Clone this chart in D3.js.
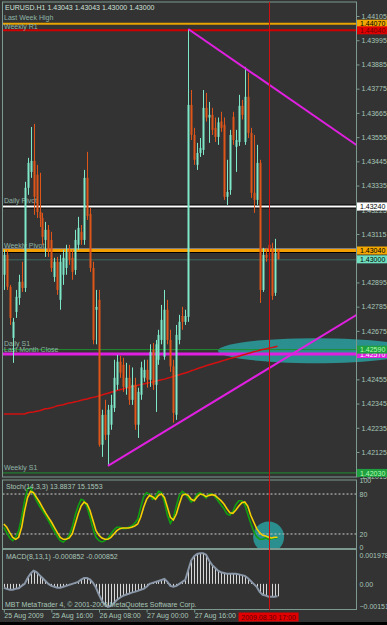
<!DOCTYPE html>
<html><head><meta charset="utf-8">
<script src="https://cdn.jsdelivr.net/npm/d3@7"></script>
<style>body{margin:0;background:#000}svg{display:block}text{font-family:"Liberation Sans",Arial,sans-serif}</style>
</head><body>
<script>
const title = "EURUSD.H1 1.43043 1.43043 1.43000 1.43000";
const opens  = [1.42930,1.43020,1.42875,1.42643,1.42761,1.42825,1.42898,1.42870,1.43325,1.43397,1.43447,1.43384,1.43215,1.43188,1.43088,1.43134,1.43088,1.42920,1.42989,1.42816,1.42930,1.42961,1.43043,1.43007,1.42952,1.43066,1.43125,1.43088,1.43370,1.43206,1.42961,1.42771,1.42816,1.42158,1.42294,1.42203,1.42249,1.42325,1.42430,1.42535,1.42521,1.42417,1.42462,1.42362,1.42430,1.42249,1.42385,1.42462,1.42498,1.42453,1.42589,1.42430,1.42544,1.42634,1.42557,1.42771,1.42634,1.42514,1.42294,1.42634,1.42743,1.42716,1.42739,1.43701,1.43565,1.43429,1.43483,1.43497,1.43688,1.43644,1.43656,1.43597,1.43556,1.43626,1.43611,1.43284,1.43315,1.43647,1.43511,1.43533,1.43697,1.43533,1.43738,1.43574,1.43302,1.43270,1.43438,1.42861,1.43020,1.43066,1.43043,1.42848,1.43043];
const highs  = [1.43043,1.43043,1.42884,1.42734,1.42861,1.42930,1.42989,1.43352,1.43461,1.43601,1.43615,1.43429,1.43393,1.43211,1.43170,1.43156,1.43125,1.43007,1.43011,1.43020,1.43043,1.43066,1.43066,1.43043,1.43134,1.43193,1.43156,1.43406,1.43488,1.43234,1.42989,1.42861,1.42861,1.42317,1.42362,1.42339,1.42385,1.42544,1.42566,1.42562,1.42553,1.42530,1.42521,1.42509,1.42462,1.42417,1.42535,1.42544,1.42544,1.42614,1.42620,1.42634,1.42680,1.42793,1.42861,1.42816,1.42680,1.42544,1.42702,1.42748,1.42784,1.42771,1.44046,1.43769,1.43597,1.43529,1.43551,1.43769,1.43756,1.43715,1.43688,1.43644,1.43644,1.43670,1.43644,1.43452,1.43588,1.43670,1.43588,1.43747,1.43724,1.43874,1.43847,1.43597,1.43565,1.43520,1.43452,1.43052,1.43052,1.43075,1.43075,1.43093,1.43043];
const lows   = [1.42861,1.42861,1.42702,1.42530,1.42734,1.42793,1.42852,1.42852,1.43293,1.43370,1.43202,1.43188,1.43147,1.43066,1.43011,1.43011,1.42943,1.42898,1.42839,1.42771,1.42884,1.42930,1.42975,1.42907,1.42930,1.43043,1.43066,1.43066,1.43179,1.42943,1.42614,1.42614,1.42149,1.42103,1.42180,1.42062,1.42226,1.42307,1.42407,1.42462,1.42398,1.42385,1.42339,1.42339,1.42226,1.42189,1.42362,1.42444,1.42417,1.42421,1.42407,1.42307,1.42521,1.42614,1.42544,1.42614,1.42489,1.42258,1.42271,1.42614,1.42680,1.42702,1.42716,1.43542,1.43429,1.43406,1.43465,1.43474,1.43626,1.43529,1.43565,1.43533,1.43520,1.43579,1.43270,1.43247,1.43293,1.43520,1.43397,1.43515,1.43635,1.43520,1.43551,1.43279,1.43211,1.43247,1.42802,1.42852,1.42989,1.43034,1.42816,1.42834,1.43000];
const closes = [1.43020,1.42875,1.42734,1.42716,1.42830,1.42898,1.42870,1.43325,1.43438,1.43447,1.43284,1.43215,1.43188,1.43102,1.43134,1.43043,1.42961,1.42989,1.42861,1.42989,1.43007,1.43034,1.42998,1.42943,1.43088,1.43143,1.43088,1.43370,1.43197,1.42961,1.42634,1.42784,1.42158,1.42294,1.42203,1.42317,1.42339,1.42462,1.42535,1.42485,1.42421,1.42462,1.42362,1.42430,1.42249,1.42398,1.42509,1.42498,1.42453,1.42580,1.42430,1.42614,1.42657,1.42725,1.42771,1.42634,1.42514,1.42303,1.42657,1.42716,1.42716,1.42743,1.43701,1.43565,1.43452,1.43483,1.43506,1.43688,1.43644,1.43656,1.43588,1.43556,1.43622,1.43597,1.43284,1.43306,1.43565,1.43542,1.43542,1.43697,1.43656,1.43738,1.43574,1.43302,1.43270,1.43438,1.42861,1.43020,1.43007,1.43043,1.42834,1.43029,1.43000];
const ma = [1.42298,1.42298,1.42298,1.42298,1.42298,1.42298,1.42298,1.42298,1.42303,1.42305,1.42307,1.42310,1.42312,1.42317,1.42321,1.42323,1.42326,1.42330,1.42335,1.42337,1.42340,1.42344,1.42348,1.42350,1.42353,1.42356,1.42360,1.42363,1.42366,1.42370,1.42373,1.42376,1.42380,1.42384,1.42388,1.42392,1.42396,1.42400,1.42404,1.42408,1.42411,1.42415,1.42418,1.42421,1.42424,1.42428,1.42431,1.42434,1.42437,1.42440,1.42443,1.42447,1.42450,1.42453,1.42456,1.42460,1.42464,1.42468,1.42472,1.42476,1.42480,1.42484,1.42488,1.42494,1.42498,1.42503,1.42508,1.42512,1.42517,1.42521,1.42525,1.42529,1.42533,1.42537,1.42541,1.42545,1.42549,1.42553,1.42556,1.42560,1.42564,1.42568,1.42572,1.42576,1.42580,1.42583,1.42587,1.42590,1.42593,1.42596,1.42599,1.42602,1.42605];
const stochD = [35,30,22,15,12,15,30,55,75,84,82,75,68,60,52,45,38,30,22,15,12,12,14,20,35,50,62,68,65,55,40,25,18,14,12,12,15,20,25,28,29,29,29,30,32,35,45,60,72,78,76,72,78,80,75,60,45,41,50,65,78,80,78,72,70,76,80,79,76,78,79,78,74,70,65,58,52,51,56,62,67,68,62,48,38,28,22,18,17,15,14,15,15.1553];
const stochK = [30,22,14,10,15,25,45,70,88,90,80,70,62,55,48,40,32,24,16,10,8,12,18,30,48,62,72,70,60,45,28,15,10,8,10,14,20,26,30,30,28,28,30,32,36,42,60,76,82,80,72,76,84,82,68,48,36,44,62,78,84,80,74,68,72,80,82,78,74,80,80,76,70,64,58,50,48,54,64,70,70,64,50,36,24,16,12,12,14,12,13,14,13.8837];
const macd = [-0.00027,-0.00034,-0.0004,-0.0004,-0.00034,-0.0003,-0.00014,0,0.0004,0.0007,0.0009,0.0008,0.0006,0.0004,0.0002,0,-0.00014,-0.0002,-0.00027,-0.00027,-0.0002,-0.00014,-0.00007,0,0.00007,0.00014,0.0003,0.0004,0.0004,0.0003,0.00007,-0.00027,-0.00075,-0.00116,-0.00143,-0.00157,-0.0015,-0.0013,-0.0011,-0.00095,-0.00082,-0.00075,-0.00068,-0.0006,-0.00055,-0.00048,-0.0004,-0.00034,-0.0002,0,0.00007,0.00014,0.0002,0.00027,0.00034,0.00014,-0.00014,-0.0002,-0.00014,0,0.00014,0.00027,0.00095,0.0016,0.0019,0.00205,0.0021,0.0021,0.0020,0.0016,0.0013,0.0011,0.0009,0.0008,0.00075,0.0007,0.0007,0.0007,0.0007,0.00065,0.0006,0.00055,0.0004,0.0002,0,-0.0002,-0.00055,-0.00075,-0.0008,-0.00088,-0.00088,-0.00088,-0.000852];
const priceTicks = [1.44105,1.43995,1.43885,1.43775,1.43665,1.43555,1.43445,1.43335,1.43225,1.43115,1.42895,1.42785,1.42675,1.42455,1.42345,1.42235,1.42125,1.42015];
const timeTickBars = [0,16,32,48,64];
const timeTickLabels = ["25 Aug 2009","25 Aug 16:00","26 Aug 08:00","27 Aug 00:00","27 Aug 16:00"];
const levelNames  = ["Last Week High","Weekly R1","Daily Pivot","Weekly Pivot","Daily S1","Last Month Close","Weekly S1"];
const levelPrices = [1.44070,1.44040,1.43240,1.43040,1.42590,1.42570,1.42030];
const levelColors = ["#e8a400","#d00000","#ffffff","#f4a000","#1f8f2f","#e020e0","#1f8f2f"];
const levelWidths = [2,2,2,3,1,3,1];
const trendBars   = [[62,81],[35,60]];
const trendPrices = [[1.44046,1.43869],[1.42062,1.42267]];
const stochLevels = [80,20];
const stochTickVals = [100,80,20,0];
const macdTickVals = [0.001978,0,-0.001516];
const cursorBar = 89, cursorLabel = "2009.08.30 17:00";

const W=387,H=625;
const bg="#333333", frame="#7d9a90", txt="#a9c7b9", hl="#2c8f8f";
const svg=d3.select("body").append("svg").attr("width",W).attr("height",H);
svg.append("rect").attr("width",W).attr("height",H).attr("fill",bg);
svg.append("rect").attr("y",622).attr("width",W).attr("height",3).attr("fill","#000");

const x=d3.scaleLinear().domain([0,16]).range([3.8,3.8+47.6]);
const y=d3.scaleLinear().domain([1.42125,1.44105]).range([452,16]);
const ys=d3.scaleLinear().domain([0,100]).range([547.3,480.7]);
const ym=d3.scaleLinear().domain([-0.001516,0.001978]).range([606,555]);
const L=2.5,R=356.5;

const defs=svg.append("defs");
defs.append("clipPath").attr("id","cm").append("rect").attr("x",L).attr("y",2).attr("width",R-L).attr("height",475);
defs.append("clipPath").attr("id","ce").append("rect").attr("x",L).attr("y",2).attr("width",W-L).attr("height",475);
defs.append("clipPath").attr("id","cs").append("rect").attr("x",L).attr("y",481).attr("width",R-L).attr("height",67);
defs.append("clipPath").attr("id","cmc").append("rect").attr("x",L).attr("y",550).attr("width",R-L).attr("height",59);

// highlight ellipse (behind)
svg.append("ellipse").attr("clip-path","url(#ce)").attr("cx",316).attr("cy",y(1.42585)).attr("rx",98).attr("ry",12.5).attr("fill",hl);

const main=svg.append("g").attr("clip-path","url(#cm)");
const n=closes.length, idx=d3.range(n);
const pa=svg.append("g").attr("transform",`translate(${R},0)`).call(d3.axisRight(y).tickValues(priceTicks).tickFormat(d3.format(".5f")).tickSize(3).tickPadding(2));
pa.select(".domain").remove();
pa.selectAll("line").attr("stroke",frame);
pa.selectAll("text").attr("fill",txt).attr("font-size",7).attr("font-family","Liberation Sans");

levelPrices.forEach((p,i)=>{
  if(i===2){main.append("line").attr("x1",L).attr("x2",R).attr("y1",y(p)).attr("y2",y(p)).attr("stroke","#000").attr("stroke-width",4);}
  if(i===3){main.append("line").attr("x1",L).attr("x2",R).attr("y1",y(p)).attr("y2",y(p)).attr("stroke","#000").attr("stroke-width",5);
            main.append("line").attr("x1",L).attr("x2",R).attr("y1",y(p)-1.5).attr("y2",y(p)-1.5).attr("stroke","#fff").attr("stroke-width",1);}
  main.append("line").attr("x1",L).attr("x2",R).attr("y1",y(p)).attr("y2",y(p)).attr("stroke",levelColors[i]).attr("stroke-width",levelWidths[i]);
});
main.append("line").attr("x1",L).attr("x2",R).attr("y1",y(closes[n-1])+0.5).attr("y2",y(closes[n-1])+0.5).attr("stroke","#3e6b60").attr("stroke-width",1);
const lblY=[20,29,203,248,346,352,470];
levelNames.forEach((t,i)=>main.append("text").attr("x",4).attr("y",lblY[i]).attr("font-size",7).attr("fill","#8fb3a6").text(t));

main.append("path").datum(idx).attr("fill","none").attr("stroke","#d41010").attr("stroke-width",1.5)
  .attr("d",d3.line().x(i=>x(i)).y(i=>y(ma[i])));

const cg=main.append("g");
idx.forEach(i=>{
  const up=closes[i]>=opens[i]; const col=up?"#7fe8c9":"#e0561a";
  const xc=Math.round(x(i));
  cg.append("line").attr("x1",xc+0.5).attr("x2",xc+0.5).attr("y1",y(highs[i])).attr("y2",y(lows[i])).attr("stroke",col).attr("stroke-width",1);
  const t=y(Math.max(opens[i],closes[i])), b=y(Math.min(opens[i],closes[i]));
  cg.append("rect").attr("x",xc-0.5).attr("width",2).attr("y",t).attr("height",Math.max(1,b-t)).attr("fill",col);
});

trendBars.forEach((tb,k)=>{
  const tp=trendPrices[k];
  const x0=x(tb[0]),y0=y(tp[0]),x1=x(tb[1]),y1=y(tp[1]);
  const s=(y1-y0)/(x1-x0);
  main.append("line").attr("x1",x0).attr("y1",y0).attr("x2",R+10).attr("y2",y0+s*(R+10-x0)).attr("stroke","#e020e0").attr("stroke-width",2);
});

function plabel(p,fill,tc){
  const yy=y(p);
  svg.append("rect").attr("x",357).attr("y",yy-4).attr("width",30).attr("height",8).attr("fill",fill);
  svg.append("text").attr("x",360).attr("y",yy+2.6).attr("font-size",7).attr("fill",tc).text(d3.format(".5f")(p));
}
plabel(levelPrices[5],"#e020e0","#ffffff");
plabel(levelPrices[0],"#f0a800","#000");
plabel(levelPrices[1],"#e00000","#700000");
plabel(levelPrices[2],"#ffffff","#000");
plabel(levelPrices[3],"#f4a800","#000");
plabel(closes[n-1],"#6fe0c0","#000");
plabel(levelPrices[4],"#1f9f3f","#b0ffb0");
plabel(levelPrices[6],"#1f9f3f","#b0ffb0");

svg.append("text").attr("x",5).attr("y",10).attr("font-size",7).attr("fill","#cfe0d8").text(title);

// stochastic
const sg=svg.append("g").attr("clip-path","url(#cs)");
sg.append("circle").attr("cx",x(cursorBar)).attr("cy",537).attr("r",15.5).attr("fill",hl);
stochLevels.forEach(v=>sg.append("line").attr("x1",L).attr("x2",R).attr("y1",ys(v)).attr("y2",ys(v)).attr("stroke","#cfcfcf").attr("stroke-dasharray","2,2"));
sg.append("path").datum(idx).attr("fill","none").attr("stroke","#10a010").attr("stroke-width",1.6).attr("d",d3.line().x(i=>x(i)).y(i=>ys(stochK[i])));
sg.append("path").datum(idx).attr("fill","none").attr("stroke","#f6d000").attr("stroke-width",1.6).attr("d",d3.line().x(i=>x(i)).y(i=>ys(stochD[i])));
svg.append("text").attr("x",6).attr("y",489).attr("font-size",7).attr("fill",txt).text("Stoch(14,3,3) 13.8837 15.1553");
const sa=svg.append("g").attr("transform",`translate(${R},0)`).call(d3.axisRight(ys).tickValues(stochTickVals).tickSize(0).tickPadding(3));
sa.select(".domain").remove(); sa.selectAll("text").attr("fill",txt).attr("font-size",7).attr("font-family","Liberation Sans");

// macd
const mg=svg.append("g").attr("clip-path","url(#cmc)");
idx.forEach(i=>mg.append("line").attr("x1",Math.round(x(i))+0.5).attr("x2",Math.round(x(i))+0.5).attr("y1",ym(0)).attr("y2",ym(macd[i])).attr("stroke","#d8d8d8").attr("stroke-width",1));
mg.append("path").datum(idx).attr("fill","none").attr("stroke","#8a97a8").attr("stroke-width",2).attr("d",d3.line().x(i=>x(i)).y(i=>ym(macd[i])));
svg.append("text").attr("x",6).attr("y",559).attr("font-size",7).attr("fill",txt).text("MACD(8,13,1) -0.000852 -0.000852");
svg.append("text").attr("x",5).attr("y",607).attr("font-size",7).attr("fill",txt).text("MBT MetaTrader 4, © 2001-2009 MetaQuotes Software Corp.");
const ma_=svg.append("g").attr("transform",`translate(${R},0)`).call(d3.axisRight(ym).tickValues(macdTickVals).tickFormat(d=>d===0?"0.00":d3.format(".6f")(d)).tickSize(0).tickPadding(3));
ma_.select(".domain").remove(); ma_.selectAll("text").attr("fill",txt).attr("font-size",7).attr("font-family","Liberation Sans");

[[2,477],[480,548.5],[549.5,609.5]].forEach(([a,b])=>svg.append("rect").attr("x",L).attr("y",a).attr("width",R-L).attr("height",b-a).attr("fill","none").attr("stroke",frame).attr("stroke-width",1));

svg.append("line").attr("x1",Math.round(x(cursorBar))+0.5).attr("x2",Math.round(x(cursorBar))+0.5).attr("y1",2).attr("y2",610).attr("stroke","#d01010").attr("stroke-width",1);

const ta=svg.append("g").attr("transform","translate(0,609.5)").call(d3.axisBottom(x).tickValues(timeTickBars).tickFormat((d,i)=>timeTickLabels[i]).tickSize(3).tickPadding(1));
ta.select(".domain").remove(); ta.selectAll("line").attr("stroke",frame);
ta.selectAll("text").attr("text-anchor","start").attr("fill",txt).attr("font-size",7).attr("font-family","Liberation Sans");
const cx=x(cursorBar);
svg.append("rect").attr("x",cx-30).attr("y",612.5).attr("width",60).attr("height",9).attr("fill","#e00000");
svg.append("text").attr("x",cx).attr("y",620).attr("text-anchor","middle").attr("font-size",7).attr("fill","#600000").text(cursorLabel);
</script>
</body></html>
